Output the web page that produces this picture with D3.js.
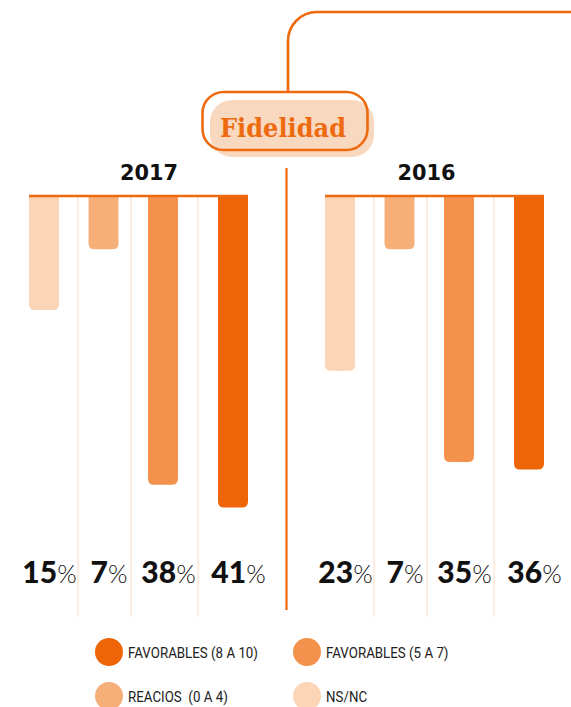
<!DOCTYPE html>
<html>
<head>
<meta charset="utf-8">
<script src="https://cdn.jsdelivr.net/npm/d3@7"></script>
<style>
  html, body { margin: 0; padding: 0; background: #fff; }
  svg { display: block; }
</style>
</head>
<body>
<div id="chart"></div>
<script>
// Survey answers, drawn as bars hanging from a baseline, one panel per year
const categories = ["NS/NC", "REACIOS  (0 A 4)", "FAVORABLES (5 A 7)", "FAVORABLES (8 A 10)"];
const years = ["2017", "2016"];
const values2017 = [15, 7, 38, 41];
const values2016 = [23, 7, 35, 36];
const legendOrder = ["FAVORABLES (8 A 10)", "FAVORABLES (5 A 7)", "REACIOS  (0 A 4)", "NS/NC"];
const title = "Fidelidad";

const W = 571, H = 707;
const ORANGE = "#ee6a0e";

const color = d3.scaleOrdinal()
  .domain(categories)
  .range(["#fcd4b6", "#f7af7a", "#f2924c", "#ee6508"]);

// panel placement
const panelX = d3.scaleOrdinal().domain(years).range([29, 325]);
const headingX = d3.scaleOrdinal().domain(years).range([120, 101.5]);
const barX = d3.scaleOrdinal().domain(categories).range([0, 59.5, 119, 189]);
const gridX = [49, 102, 169];
const barW = 30, panelW = 219;
const baseY = 196;
const y = d3.scaleLinear().domain([0, 50]).range([baseY, baseY + 380]);

const svg = d3.select("#chart").append("svg")
  .attr("width", W).attr("height", H);

// connector from the top edge into the title badge
svg.append("path")
  .attr("d", "M288 92 V41 A29 29 0 0 1 317 12 H571")
  .attr("fill", "none").attr("stroke", ORANGE).attr("stroke-width", 2.6);

// title badge: shaded plate with an outline offset above it
svg.append("rect")
  .attr("x", 210).attr("y", 100).attr("width", 164).attr("height", 57)
  .attr("rx", 22).attr("fill", "#f9d8c0");
svg.append("rect")
  .attr("x", 202.5).attr("y", 92).attr("width", 165).attr("height", 58)
  .attr("rx", 21).attr("fill", "none").attr("stroke", ORANGE).attr("stroke-width", 2.6);
svg.append("text")
  .attr("x", 283).attr("y", 136.5)
  .attr("text-anchor", "middle")
  .attr("font-family", "DejaVu Serif").attr("font-weight", "bold")
  .attr("font-size", 26).attr("fill", ORANGE)
  .attr("textLength", 126).attr("lengthAdjust", "spacingAndGlyphs")
  .text(title);

// divider between the two years
svg.append("line")
  .attr("x1", 286.5).attr("x2", 286.5).attr("y1", 168).attr("y2", 610)
  .attr("stroke", ORANGE).attr("stroke-width", 2.2);

// bar with a flat top at the baseline and rounded bottom corners
function hangingBar(x, top, w, bottom, r) {
  const rr = Math.min(r, (bottom - top) / 2);
  return `M${x},${top} H${x + w} V${bottom - rr} Q${x + w},${bottom} ${x + w - rr},${bottom}` +
         ` H${x + rr} Q${x},${bottom} ${x},${bottom - rr} Z`;
}

const panels = [
  { year: "2017", values: values2017 },
  { year: "2016", values: values2016 }
];

panels.forEach(p => {
  const g = svg.append("g").attr("transform", `translate(${panelX(p.year)},0)`);

  // light column separators
  g.selectAll("line.grid").data(gridX).enter().append("line")
    .attr("class", "grid")
    .attr("x1", d => d).attr("x2", d => d)
    .attr("y1", baseY).attr("y2", 617)
    .attr("stroke", "#fde8da").attr("stroke-width", 1.6);

  const rows = categories.map((c, i) => ({ cat: c, value: p.values[i] }));

  g.selectAll("path.bar").data(rows).enter().append("path")
    .attr("class", "bar")
    .attr("d", d => hangingBar(barX(d.cat), baseY, barW, y(d.value), 6))
    .attr("fill", d => color(d.cat));

  // baseline
  g.append("line")
    .attr("x1", 0).attr("x2", panelW)
    .attr("y1", baseY).attr("y2", baseY)
    .attr("stroke", ORANGE).attr("stroke-width", 2.6);

  // year heading
  g.append("text")
    .attr("x", headingX(p.year)).attr("y", 180)
    .attr("text-anchor", "middle")
    .attr("font-family", "DejaVu Sans").attr("font-weight", "bold")
    .attr("font-size", 21).attr("fill", "#111")
    .attr("textLength", 58).attr("lengthAdjust", "spacingAndGlyphs")
    .text(p.year);

  // value labels
  const lab = g.selectAll("text.val").data(rows).enter().append("text")
    .attr("class", "val")
    .attr("x", d => barX(d.cat) + barW / 2 + 5.5)
    .attr("y", 583)
    .attr("text-anchor", "middle")
    .attr("fill", "#111");
  lab.append("tspan")
    .attr("font-family", "Lato").attr("font-weight", 900).attr("font-size", 30)
    .text(d => d.value);
  lab.append("tspan")
    .attr("font-family", "Lato").attr("font-weight", 300).attr("font-size", 25)
    .text("%");
});

// legend
const legX = d3.scaleOrdinal().domain([0, 1]).range([109, 307]);
const legY = d3.scaleOrdinal().domain([0, 1]).range([652, 696]);
const leg = svg.selectAll("g.leg").data(legendOrder).enter().append("g")
  .attr("class", "leg")
  .attr("transform", (d, i) => `translate(${legX(i % 2)},${legY(Math.floor(i / 2))})`);
leg.append("circle").attr("r", 14).attr("fill", d => color(d));
leg.append("text")
  .attr("transform", "translate(19,5.5) scale(0.86,1)")
  .attr("font-family", "Roboto").attr("font-size", 15.5)
  .attr("fill", "#222")
  .attr("xml:space", "preserve")
  .style("white-space", "pre")
  .text(d => d);
</script>
</body>
</html>
